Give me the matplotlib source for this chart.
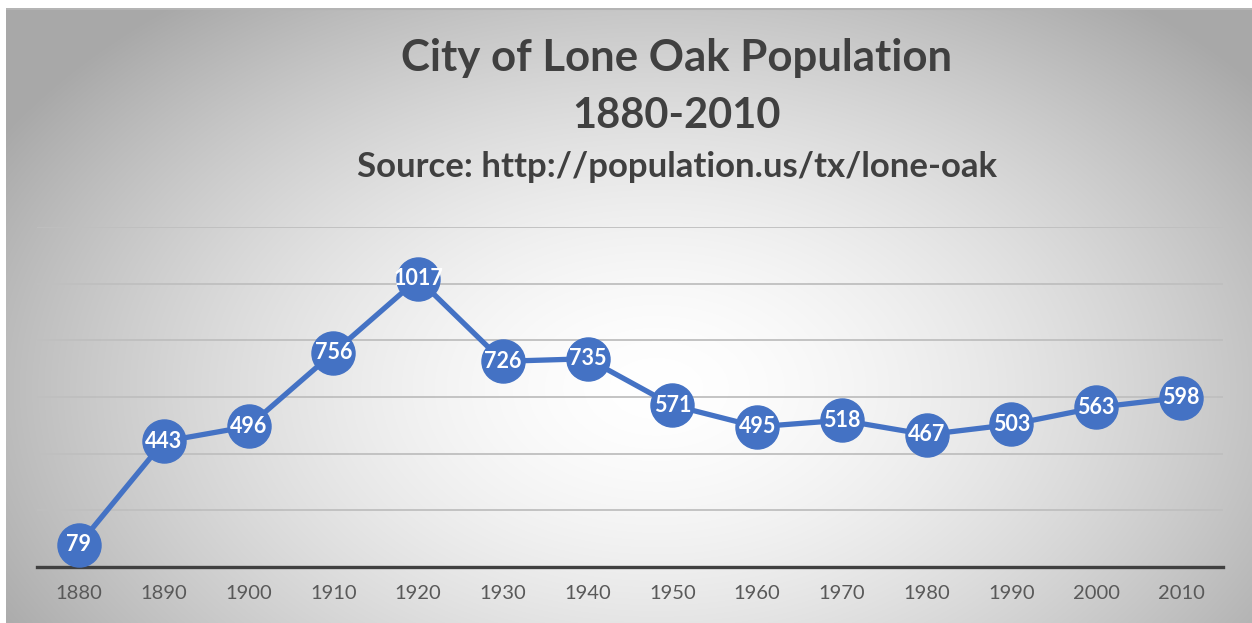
import matplotlib
matplotlib.use('Agg')
import matplotlib.pyplot as plt
import numpy as np

BLUE = '#4472C4'
TEXT = '#404040'
TICK = '#595959'
GRID = '#bfbfbf'

years = ['1880', '1890', '1900', '1910', '1920', '1930', '1940',
         '1950', '1960', '1970', '1980', '1990', '2000', '2010']
population = [79, 443, 496, 756, 1017, 726, 735, 571, 495, 518, 467, 503, 563, 598]

W, H = 1252, 623
fig = plt.figure(figsize=(W / 100, H / 100), dpi=100)
fig.patch.set_facecolor('white')

# radial gray->white background of the chart frame
bg = fig.add_axes([6 / W, 0, 1 - 6 / W, 1 - 8 / H], zorder=-2)
bw, bh = W - 6, H - 8
xx, yy = np.meshgrid(np.arange(bw), np.arange(bh))
d = np.sqrt(((xx - 650) / 660.0) ** 2 + ((yy - 380) / 430.0) ** 2)
v = 1.0 - 0.27 * np.clip(d, 0, 1.15) ** 1.6
img = np.dstack([v, v, v])
bg.imshow(img, aspect='auto', interpolation='bilinear')
bg.axhline(0, color='#b4b4b4', lw=1.5)
bg.axis('off')

ax = fig.add_axes([36.6 / W, 1 - 567 / H, (1223.4 - 36.6) / W, (567 - 227) / H])
ax.patch.set_alpha(0)
x = np.arange(len(years))
ax.plot(x, population, color=BLUE, lw=3.8, marker='o', markersize=31,
        markerfacecolor=BLUE, markeredgecolor=BLUE, zorder=3, clip_on=False)
for xi, p in zip(x, population):
    ax.text(xi, p, str(p), color='white', fontsize=15.5, fontweight='bold',
            family='Lato', ha='center', va='center', zorder=4)

ax.set_xlim(-0.5, len(years) - 0.5)
ax.set_ylim(0, 1200)
ax.set_yticks(range(200, 1201, 200))
ax.yaxis.grid(True, color=GRID, lw=1.3)
ax.set_axisbelow(True)
ax.tick_params(axis='y', left=False, labelleft=False)
ax.set_xticks(x)
ax.set_xticklabels(years, fontsize=14.5, color=TICK, family='Lato')
ax.tick_params(axis='x', length=0, pad=13)
for s in ['top', 'right', 'left']:
    ax.spines[s].set_visible(False)
ax.spines['bottom'].set_color('#404040')
ax.spines['bottom'].set_linewidth(2.4)

fig.text(677 / W, 1 - 58 / H, 'City of Lone Oak Population', ha='center', va='center',
         fontsize=31.5, fontweight='bold', color=TEXT, family='Lato')
fig.text(677 / W, 1 - 116 / H, '1880-2010', ha='center', va='center',
         fontsize=30, fontweight='bold', color=TEXT, family='Lato')
fig.text(677 / W, 1 - 167 / H, 'Source: http://population.us/tx/lone-oak', ha='center', va='center',
         fontsize=25, fontweight='bold', color=TEXT, family='Lato')

fig.savefig('out.png', dpi=100)
